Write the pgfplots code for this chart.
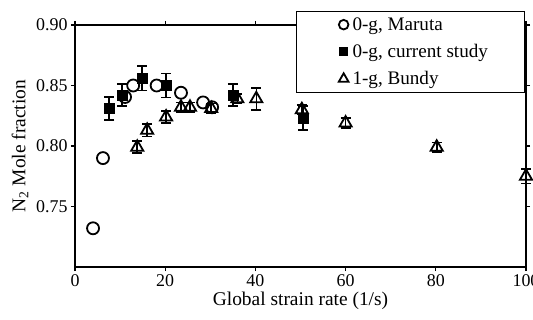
\documentclass[border=0pt]{standalone}
\usepackage{pgfplots}
\pgfplotsset{compat=1.18}
\usepackage{fontspec}
\setmainfont{Liberation Serif}
\newcommand{\lt}[1]{\makebox[128bp][l]{#1}}
\begin{document}
\begin{tikzpicture}
\begin{axis}[
  scale only axis, width=451bp, height=242bp,
  xmin=0, xmax=100, ymin=0.70, ymax=0.90,
  xtick={0,20,...,100}, ytick={0.75,0.80,0.85,0.90},
  yticklabel style={/pgf/number format/fixed, /pgf/number format/fixed zerofill, /pgf/number format/precision=2},
  /pgf/number format/assume math mode=true,
  tick label style={font=\fontsize{18}{20}\selectfont},
  tick align=outside, major tick length=4bp,
  axis line style={line width=1.6bp}, tick style={line width=1.2bp, black},
  xlabel={Global strain rate (1/s)},
  ylabel={N\textsubscript{2} Mole fraction},
  label style={font=\fontsize{19.5}{21}\selectfont},
  xlabel style={at={(axis description cs:0.5,-0.138)}, anchor=center},
  ylabel style={at={(axis description cs:-0.122,0.5)}, anchor=center},
  clip=false,
  legend style={at={(axis description cs:0.998,1.058)}, anchor=north east,
    draw=black, line width=1.2bp, font=\fontsize{19.2}{21}\selectfont,
    inner xsep=42bp, inner ysep=4bp, row sep=8.5bp, column sep=2bp, cells={anchor=west}, fill=white},
  legend image post style={mark options={scale=0.8}},
  error bars/error bar style={line width=1.6bp, black},
  error bars/error mark options={rotate=90, mark size=5bp, line width=1.6bp, black},
]
\addplot[only marks, mark=o, mark size=6bp, line width=1.8bp, black] table {
x y
4.0 0.732
6.2 0.790
11.1 0.8405
12.9 0.850
18.1 0.850
23.5 0.844
28.4 0.836
30.4 0.832
};
\addlegendentry{\lt{0-g, Maruta}}
\addplot[only marks, mark=square*, mark size=5bp, black,
  error bars/.cd, y dir=both, y explicit] table[y error=ey] {
x y ey
7.6 0.831 0.0095
10.4 0.842 0.009
14.9 0.856 0.010
20.2 0.850 0.010
35.0 0.842 0.009
50.5 0.823 0.010
};
\addlegendentry{\lt{0-g, current study}}
\addplot[only marks, mark=triangle, mark size=7bp, line width=1.8bp, black,
  error bars/.cd, y dir=both, y explicit] table[y error=ey] {
x y ey
13.8 0.799 0.005
16.0 0.813 0.005
20.2 0.824 0.005
23.5 0.832 0.004
25.5 0.832 0.004
30.2 0.831 0.004
36.0 0.839 0.004
40.2 0.839 0.009
50.3 0.830 0.004
60.0 0.819 0.004
80.2 0.799 0.004
100.0 0.775 0.006
};
\addlegendentry{\lt{1-g, Bundy}}
\end{axis}
\pgfresetboundingbox
\useasboundingbox (-75bp,-53bp) rectangle (458bp,267bp);
\end{tikzpicture}
\end{document}
